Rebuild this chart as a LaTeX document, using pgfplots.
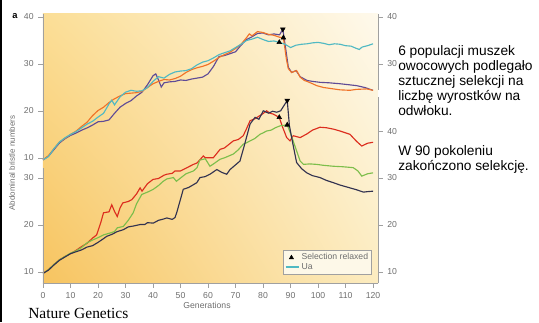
\documentclass[border=0pt]{standalone}
\usepackage{fontspec}
\setmainfont{Liberation Sans}
\newfontfamily\seriffont{Liberation Serif}
\usepackage{pgfplots}
\pgfplotsset{compat=1.18}
\usetikzlibrary{shadings}
\definecolor{bgLL}{RGB}{247,196,96}
\definecolor{bgUL}{RGB}{251,222,150}
\definecolor{bgLR}{RGB}{252,236,192}
\definecolor{bgUR}{RGB}{254,249,236}
\definecolor{cUa}{RGB}{80,185,195}
\definecolor{cOr}{RGB}{240,115,40}
\definecolor{cPu}{RGB}{95,75,150}
\definecolor{cRe}{RGB}{220,45,30}
\definecolor{cGr}{RGB}{125,190,75}
\definecolor{cDk}{RGB}{50,50,80}
\definecolor{axgray}{RGB}{160,160,160}
\definecolor{txgray}{RGB}{110,110,110}
\definecolor{legbg}{RGB}{253,248,232}
\pgfplotsset{
 shortmark/.style={legend image code/.code={\draw[mark repeat=2,mark phase=2,#1] plot coordinates {(0cm,0cm)(0.2cm,0cm)(0.4cm,0cm)};}},
 shortline/.style={legend image code/.code={\draw[#1] (0.05cm,0cm) -- (0.4cm,0cm);}},
 base/.style={
  at={(32.25pt,29.25pt)}, anchor=south west,
  scale only axis, width=251.25pt, height=201.75pt,
  xmin=0, xmax=121.8,
  tick align=outside, major tick length=3.5pt,
  tick style={axgray, line width=0.5pt},
  ticklabel style={font=\fontsize{6.5}{7}\selectfont, text=txgray},
  /pgf/number format/assume math mode=true,
  clip mode=individual,
  y axis line style={draw=none},
}}
\begin{document}
\begin{tikzpicture}
\useasboundingbox (0,0) rectangle (404.25pt,241.5pt);
% lower panel
\begin{axis}[base, ymin=7.66, ymax=64.9,
  axis x line*=bottom, axis y line*=left,
  x axis line style={axgray, line width=0.5pt},
  xtick={0,10,...,120}, ytick={10,20,30},
  axis background/.style={shading=bilinear interpolation, lower left=bgLL, upper left=bgUL, lower right=bgLR, upper right=bgUR},
  legend style={at={(0.982,0.03)}, anchor=south east, draw=axgray, fill=legbg,
    font=\fontsize{6.5}{7}\selectfont, text=txgray, inner sep=1.2pt, row sep=-2pt,
    nodes={inner sep=1.5pt}},
  legend cell align=left]
\addlegendimage{only marks, mark=triangle*, mark size=1.8pt, black, shortmark}
\addlegendentry{Selection relaxed}
\addlegendimage{cUa, line width=0.9pt, shortline}
\addlegendentry{Ua}
\addplot[cRe, line width=0.85pt, forget plot] coordinates {
(0,9.7) (2,10.5) (4,11.6) (6,12.6) (8,13.3) (10,13.9) (12,14.6) (14,15.4) (16,16.1) (18,17.2) (19.5,17.9) (21,20.5) (22,22.6) (24,22.8) (25,24.3) (26,22.9) (27,21.8) (28,23.6) (29,24.7) (31,25) (32.3,25.4) (34,26.6) (35.3,27.9) (36,27.2) (38,28.8) (40,29.7) (42,29.9) (44,30.6) (45,30.8) (47,31) (48,31.5) (50,31.5) (52,32.1) (54.7,32.9) (56,33.2) (58.3,34.7) (59,34.3) (61.9,34.3) (64.4,36.1) (66,36.4) (69.2,37.9) (71,38.2) (72.8,39) (74,40.5) (75.3,42.2) (77,42.6) (78.9,43.3) (80,43.7) (81.3,44.3) (82.5,43.8) (83.7,43.6) (85.9,42.9) (87,41) (88.6,38.6) (89.8,37.9) (91,39) (93.5,38.6) (96,39.4) (98,40.2) (100.7,40.8) (103,40.7) (105.6,40.4) (108,40) (111.6,39.3) (114,37.8) (115.9,36.8) (118,37.4) (120,37.6)};
\addplot[cGr, line width=0.85pt, forget plot] coordinates {
(0,9.7) (2,10.5) (4,11.6) (6,12.6) (8,13.3) (10,14) (12,14.5) (14,15.2) (16,16.2) (18,16.8) (20,17.3) (22,17.9) (24.4,18.3) (26,18.6) (27,19.4) (29.2,19.7) (31,21) (32.8,22.6) (34,24.5) (35.9,26.5) (38,27) (40.1,27.6) (42,28.4) (43.7,29.3) (45,29.8) (47.4,30.1) (48.5,29.3) (50,30) (52,30.9) (54.7,31.5) (56,32.2) (57,33.8) (59,34.1) (60.7,32.5) (62,33) (64.4,34) (66,34.3) (69.2,35.1) (71,36) (72.8,37.2) (74,37.5) (75.3,37.9) (77,38.4) (78.9,39.3) (80,39.6) (81.3,40) (83,40.2) (84.5,40.7) (86.2,41.1) (88.8,41.3) (90,39.5) (91.6,36.8) (93.5,33.6) (94.7,32.9) (97,33) (99.5,32.9) (102,32.7) (105.6,32.5) (109,32.4) (112.8,32.2) (114.5,31.5) (115.9,30.4) (118,30.9) (120,31.1)};
\addplot[cDk, line width=0.85pt, forget plot] coordinates {
(0,9.7) (2,10.4) (4,11.5) (6,12.5) (8,13.2) (10,13.9) (12,14.3) (14,14.7) (16,15.3) (18,15.6) (20,16.3) (22,17.1) (23.2,17.6) (25,18) (27,18.6) (29.2,19) (31,19.6) (33,19.8) (35.3,20.1) (37,20.1) (38,20.5) (40.1,20.4) (42,21) (44,21.3) (45,21.5) (47,21.2) (48,21.6) (48.6,22.6) (50,25.5) (51,27.6) (53,28) (55.9,29) (57.1,30.1) (59,30.3) (60.7,30.8) (63.2,31.8) (65,31.2) (66.8,30.8) (68,31.8) (70,32.8) (71.6,33.6) (73,36.5) (75.3,41.5) (77.1,42.9) (78.5,42.5) (80.1,44.3) (82,43.8) (83.5,44.2) (85,44) (86.4,44.3) (88.8,46.5) (89.6,41.1) (91,36.8) (92.2,33.3) (94,32) (95.9,31.1) (98,30.5) (100.7,30.1) (103,29.5) (105.6,29) (108,28.5) (111.6,27.9) (114,27.5) (116.5,27) (118,27.1) (120,27.2)};
\addplot[only marks, mark=triangle*, mark size=2pt, black, forget plot] coordinates {(85.9,42.9) (88.8,41.3)};
\addplot[only marks, mark=triangle*, mark size=2pt, black, mark options={rotate=180}, forget plot] coordinates {(88.8,46.5)};
\draw[axgray, line width=0.5pt] (axis cs:0,7.66) -- (axis cs:0,32.1);
\end{axis}
\begin{axis}[base, ymin=7.66, ymax=64.9,
  axis x line=none, axis y line*=right, ytick={10,20,30,40}]
\draw[axgray, line width=0.5pt] (axis cs:121.8,7.66) -- (axis cs:121.8,47.2);
\end{axis}
% upper panel
\begin{axis}[base, ymin=-16.6, ymax=40.64,
  axis x line=none, axis y line*=left, ytick={10,20,30,40}]
\addplot[cPu, line width=0.85pt] coordinates {
(0,9.6) (2,10.4) (4,11.8) (6,13.2) (8,14.1) (10,14.8) (12,15.3) (14,15.9) (16,16.4) (18,17) (20,17.7) (22,17.8) (24,18.1) (26,19.5) (28,20.8) (30,21.6) (32,22.2) (34,23.2) (36,24) (38,25.6) (40,27.5) (41,27.9) (42,26.6) (43,25.1) (44,26) (46,26.2) (48,26.3) (50,26.6) (52,26.5) (54,26.8) (56,27) (58,27.2) (60,27.9) (62,29.5) (64,31.6) (66,31.8) (68,32.2) (70,32.6) (72,34) (74,35.2) (76,35.8) (78,36.5) (80,36.6) (82,36.2) (84,36.4) (86,36.2) (87.2,37.4) (88.3,33) (89.2,29.3) (90.4,28.2) (92,28.6) (93.5,27.3) (96,26.5) (98,26.3) (100.7,26.1) (104,26) (108,25.8) (111,25.6) (114,25.4) (117,25) (120,24.4)};
\addplot[cOr, line width=0.85pt] coordinates {
(0,9.6) (2,10.5) (4,12) (6,13.4) (8,14.2) (10,15) (12,15.7) (14,16.7) (16,17.6) (18,19) (20,20.1) (22,20.8) (24,21.8) (26,22.6) (28,23.2) (30,23.7) (32,23.8) (34,23.9) (36,24.2) (38,25) (40,25.8) (42,26.3) (44,26.7) (46,26.6) (48,26.9) (50,27.4) (52,28.2) (54,28.8) (56,29.2) (58,29.5) (60,29.9) (62,30.6) (64,31.4) (66,32) (68,32.5) (70,33.3) (72,34.2) (74,35.6) (75,36.4) (76,36) (78,36.9) (80,36.7) (82,36.3) (84,36.1) (86,35.7) (87.4,35.6) (88.5,31) (89.2,29) (90.4,28.2) (92.2,28.6) (93.5,27.2) (95,26.5) (96,26.3) (98,25.8) (99.5,25.4) (102,25) (105.6,24.7) (108,24.5) (111.6,24.4) (114,24.6) (117.7,24.7) (120,24.4)};
\addplot[cUa, line width=0.85pt] coordinates {
(0,9.6) (2,10.3) (4,12) (6,13.4) (8,14.3) (10,15) (12,15.6) (14,16.4) (16,17.2) (18,17.8) (20,18.7) (22,19.5) (24,21.5) (25,22.3) (26,21.3) (28,23) (30,24) (32,24.4) (34,24.2) (36,24.3) (38,25) (40,26.3) (42,27.3) (44,27) (46,27.8) (48,28.3) (50,28.5) (52,28.6) (54,29) (56,29.8) (58,30.4) (60,30.7) (62,31.3) (64,32) (66,32.4) (68,32.8) (70,33.5) (72,34.2) (74,35) (76,35.3) (78,35.7) (80,35.2) (82,34.8) (84,34.9) (85.9,34.6) (88,34.2) (90,33.5) (92,34) (94,34.2) (96,34.3) (98,34.5) (100,34.6) (102,34.4) (104,34.1) (106,34.3) (108,34.2) (110,33.9) (112,33.8) (114,33.3) (115,33.1) (116,33.6) (118,33.9) (120,34.3)};
\addplot[only marks, mark=triangle*, mark size=2pt, black] coordinates {(85.9,34.6) (87.4,35.6)};
\addplot[only marks, mark=triangle*, mark size=2pt, black, mark options={rotate=180}] coordinates {(87.2,37.4)};
\draw[axgray, line width=0.5pt] (axis cs:0,9.6) -- (axis cs:0,40.64);
\end{axis}
\begin{axis}[base, ymin=-16.6, ymax=40.64,
  axis x line=none, axis y line*=right, ytick={30,40}]
\draw[axgray, line width=0.5pt] (axis cs:121.8,24.5) -- (axis cs:121.8,40.64);
\end{axis}
% decorations and texts
\fill[black] (0,0) rectangle (1.5pt,241.5pt);
\node[font=\bfseries\fontsize{7}{8}\selectfont, inner sep=0] at (11.25pt,229.5pt) {a};
\node[rotate=90, font=\fontsize{6}{7}\selectfont, text=txgray, inner sep=0] at (9pt,119.25pt) {Abdominal bristle numbers};
\node[font=\fontsize{6.5}{7}\selectfont, text=txgray, inner sep=0] at (155.25pt,12.75pt) {Generations};
\node[font=\seriffont\fontsize{11.6}{13}\selectfont, anchor=west, inner sep=0] at (21pt,6.75pt) {Nature Genetics};
\node[font=\fontsize{10.3}{11.25}\selectfont, anchor=north west, align=left, inner sep=0] at (298.5pt,207.75pt) {6 populacji muszek\\owocowych podlegało\\sztucznej selekcji na\\liczbę wyrostków na\\odwłoku.};
\node[font=\fontsize{10.3}{11.25}\selectfont, anchor=north west, align=left, inner sep=0] at (298.5pt,132.75pt) {W 90 pokoleniu\\zakończono selekcję.};
\end{tikzpicture}
\end{document}
